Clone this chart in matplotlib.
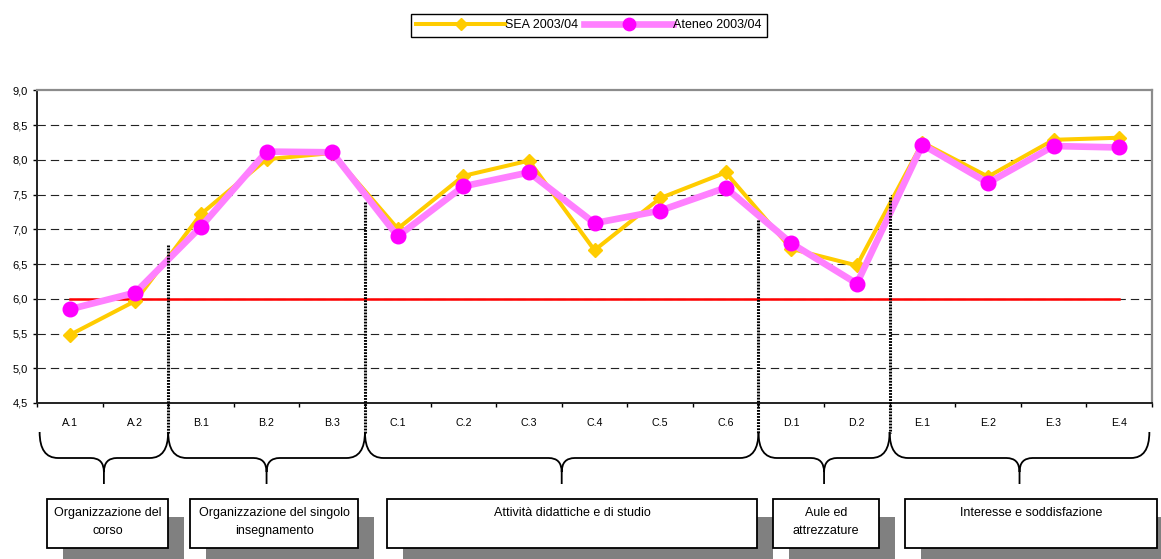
import matplotlib
matplotlib.use("Agg")
import matplotlib.pyplot as plt
import matplotlib.transforms as mtransforms
from matplotlib.patches import Rectangle
from matplotlib.path import Path
from matplotlib.patches import PathPatch
from matplotlib.ticker import FuncFormatter
import numpy as np

plt.rcParams['font.family'] = ['Liberation Sans', 'DejaVu Sans']

# dati
items = ["A.1", "A.2", "B.1", "B.2", "B.3",
         "C.1", "C.2", "C.3", "C.4", "C.5", "C.6",
         "D.1", "D.2", "E.1", "E.2", "E.3", "E.4"]
sea = [5.48, 5.97, 7.22, 8.01, 8.10,
       7.01, 7.77, 7.99, 6.70, 7.45, 7.82,
       6.72, 6.48, 8.25, 7.76, 8.29, 8.32]
ateneo = [5.85, 6.09, 7.04, 8.12, 8.11,
          6.90, 7.62, 7.82, 7.09, 7.27, 7.60,
          6.80, 6.22, 8.22, 7.67, 8.20, 8.18]
soglia = [6.0] * len(items)

groups = ["Organizzazione del\ncorso", "Organizzazione del singolo\ninsegnamento",
          "Attività didattiche e di studio", "Aule ed\nattrezzature",
          "Interesse e soddisfazione"]
group_sizes = [2, 3, 6, 2, 4]

# layout (pixel della figura)
W, H = 1161, 559
AX_L, AX_R, AX_T, AX_B = 37, 1152, 90.5, 403
sep_top = [6.78, 7.40, 7.14, 7.46]           # altezza dei separatori tratteggiati
box_px = [(47, 168), (190, 358), (387, 757), (773, 879), (905, 1157)]
BOX_T, BOX_B = 499, 548

fig = plt.figure(figsize=(W / 100, H / 100), dpi=100)
ax = fig.add_axes([AX_L / W, (H - AX_B) / H, (AX_R - AX_L) / W, (AX_B - AX_T) / H])
x = np.arange(len(items))

ax.set_xlim(-0.5, len(items) - 0.5)
ax.set_ylim(4.5, 9.0)
ax.set_yticks(np.arange(4.5, 9.01, 0.5))
ax.yaxis.set_major_formatter(FuncFormatter(lambda v, p: f"{v:.1f}".replace(".", ",")))
ax.tick_params(axis="y", direction="out", length=3, width=1, pad=3.5, labelsize=8)
ax.set_xticks(x)
ax.set_xticklabels(items)
ax.tick_params(axis="x", which="major", length=0, pad=11, labelsize=7.7)
ax.set_xticks(np.arange(-0.5, len(items)), minor=True)
ax.tick_params(axis="x", which="minor", direction="out", length=3, width=1)

for yv in np.arange(5.0, 8.51, 0.5):
    ax.axhline(yv, color="#222222", lw=0.8, dashes=(7.5, 4.5), zorder=1)

for s in ("top", "right"):
    ax.spines[s].set_color("#8c8c8c")
    ax.spines[s].set_linewidth(1.6)
for s in ("left", "bottom"):
    ax.spines[s].set_color("#222222")
    ax.spines[s].set_linewidth(1.4)

ax.plot(x, soglia, color="#FF0000", lw=1.8, zorder=2)
ax.plot(x, sea, color="#FFCC00", lw=2.9, marker="D", markersize=7,
        markerfacecolor="#FFCC00", markeredgecolor="#FFCC00", label="SEA 2003/04", zorder=3)
ax.plot(x, ateneo, color="#FF80FF", lw=4.8, marker="o", markersize=10.5,
        markerfacecolor="#FF00FF", markeredgecolor="#FF00FF", label="Ateneo 2003/04", zorder=4)

# separatori fra i gruppi
bounds = np.cumsum(group_sizes)[:-1] - 0.5
y_sep_bot = 4.5 - (433 - AX_B) / (AX_B - AX_T) * 4.5
for b, t in zip(bounds, sep_top):
    ax.plot([b, b], [t, y_sep_bot], color="black", lw=2.2, ls=(0, (0.6, 0.4)),
            clip_on=False, zorder=6)

# parentesi graffe sotto l'asse
def fy(py):
    return (AX_B - py) / (AX_B - AX_T)

bt = ax.get_xaxis_transform()
edges = np.concatenate([[-0.46], bounds, [len(items) - 0.54]])
yt, ym, yj, yb = fy(432), fy(458), fy(472), fy(484)
dx, dx2 = 0.28, 0.2
for i in range(len(group_sizes)):
    xl, xr = edges[i], edges[i + 1]
    xc = (xl + xr) / 2
    verts = [(xl, yt), (xl, ym), (xl + dx, ym), (xc - dx2, ym), (xc, ym), (xc, yj), (xc, yb),
             (xc, yj), (xc, ym), (xc + dx2, ym), (xr - dx, ym), (xr, ym), (xr, yt)]
    codes = [Path.MOVETO, Path.CURVE3, Path.CURVE3, Path.LINETO, Path.CURVE3, Path.CURVE3,
             Path.LINETO, Path.MOVETO, Path.CURVE3, Path.CURVE3, Path.LINETO,
             Path.CURVE3, Path.CURVE3]
    ax.add_patch(PathPatch(Path(verts, codes), fc="none", ec="black", lw=1.3,
                           transform=bt, clip_on=False))

# riquadri con ombra
pix = mtransforms.Affine2D().scale(1 / W, -1 / H).translate(0, 1) + fig.transFigure
for (x0, x1), name in zip(box_px, groups):
    fig.patches.append(Rectangle((x0 + 16, BOX_T + 18), x1 - x0, BOX_B - BOX_T,
                                 fc="#808080", ec="none", transform=pix, zorder=1))
    fig.patches.append(Rectangle((x0, BOX_T), x1 - x0, BOX_B - BOX_T,
                                 fc="white", ec="black", lw=1.3, transform=pix, zorder=2))
    fig.text((x0 + x1) / 2, BOX_T + 8, name, transform=pix, ha="center", va="top",
             fontsize=9, linespacing=1.72, zorder=3)

leg = fig.legend(loc="center", bbox_to_anchor=((411 + 767) / 2 / W, 1 - 25.5 / H),
                 ncol=2, fontsize=9, handlelength=7.1, handletextpad=0.0,
                 columnspacing=0.5, borderpad=0.45, fancybox=False, edgecolor="black",
                 framealpha=1, markerscale=0.85)
leg.get_frame().set_linewidth(1.0)

fig.savefig("out.png", dpi=100)
